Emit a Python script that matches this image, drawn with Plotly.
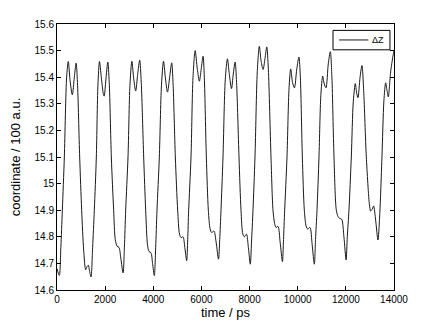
import plotly.graph_objects as go

# time (ps) and coordinate (/100 a.u.)
time_ps = [
    0, 96, 160, 222, 305, 400, 470, 540, 636, 720, 795, 850, 942, 1025, 1108, 1191, 1250, 1302, 1350, 1412,
    1480, 1550, 1634, 1700, 1765, 1840, 1930, 1960, 2030, 2110, 2170, 2257, 2354, 2420, 2493, 2576, 2650, 2745,
    2800, 2853, 2950, 3030, 3110, 3180, 3268, 3350, 3435, 3500, 3601, 3684, 3760, 3822, 3905, 3970, 4043,
    4100, 4154, 4251, 4340, 4425, 4500, 4590, 4680, 4764, 4820, 4916, 5013, 5090, 5152, 5235, 5310, 5387,
    5430, 5470, 5567, 5650, 5740, 5830, 5915, 5990, 6068, 6120, 6204, 6287, 6360, 6425, 6522, 6610, 6710,
    6760, 6813, 6896, 6990, 7080, 7160, 7250, 7320, 7400, 7460, 7561, 7644, 7720, 7783, 7870, 7950, 8031,
    8080, 8142, 8225, 8320, 8405, 8480, 8562, 8640, 8715, 8780, 8890, 8973, 9040, 9098, 9181, 9270, 9365,
    9410, 9458, 9555, 9640, 9710, 9785, 9865, 9960, 10050, 10110, 10192, 10275, 10350, 10413, 10510, 10600, 10690,
    10740, 10801, 10884, 10960, 11037, 11100, 11175, 11270, 11355, 11420, 11507, 11604, 11680, 11743, 11826, 11920, 12010,
    12060, 12129, 12226, 12310, 12393, 12450, 12503, 12590, 12669, 12740, 12850, 12980, 13030, 13100, 13154, 13240, 13334,
    13400, 13440, 13500, 13580, 13653, 13710, 13763, 13860, 13958, 14000,
]
delta_z = [
    14.68, 14.655, 14.76, 14.9, 15.1, 15.40, 15.459, 15.39, 15.334, 15.40, 15.453, 15.38, 15.1, 14.9, 14.75, 14.676, 14.688, 14.693, 14.672, 14.649,
    14.76, 14.9, 15.1, 15.37, 15.459, 15.40, 15.335, 15.329, 15.39, 15.457, 15.38, 15.1, 14.9, 14.79, 14.765, 14.76, 14.72, 14.664,
    14.76, 14.9, 15.1, 15.37, 15.46, 15.40, 15.348, 15.41, 15.464, 15.38, 15.1, 14.9, 14.77, 14.745, 14.74, 14.70, 14.654,
    14.76, 14.9, 15.1, 15.37, 15.46, 15.40, 15.344, 15.40, 15.454, 15.38, 15.1, 14.9, 14.81, 14.797, 14.80, 14.76, 14.71,
    14.79, 14.9, 15.1, 15.40, 15.50, 15.43, 15.385, 15.43, 15.479, 15.40, 15.1, 14.9, 14.83, 14.816, 14.822, 14.78, 14.716,
    14.79, 14.9, 15.1, 15.39, 15.469, 15.41, 15.357, 15.41, 15.457, 15.38, 15.1, 14.9, 14.81, 14.80, 14.81, 14.76, 14.697,
    14.78, 14.9, 15.1, 15.42, 15.516, 15.46, 15.429, 15.47, 15.514, 15.43, 15.1, 14.9, 14.85, 14.835, 14.839, 14.78, 14.707,
    14.79, 14.9, 15.1, 15.36, 15.431, 15.38, 15.36, 15.43, 15.476, 15.40, 15.1, 14.9, 14.84, 14.829, 14.835, 14.77, 14.697,
    14.79, 14.9, 15.1, 15.33, 15.404, 15.375, 15.36, 15.45, 15.496, 15.40, 15.1, 14.9, 14.875, 14.869, 14.866, 14.80, 14.713,
    14.80, 14.9, 15.1, 15.31, 15.376, 15.34, 15.323, 15.40, 15.444, 15.35, 15.1, 14.92, 14.897, 14.905, 14.916, 14.86, 14.788,
    14.87, 14.95, 15.1, 15.31, 15.379, 15.35, 15.326, 15.42, 15.48, 15.50,
]

x_ticks = [0, 2000, 4000, 6000, 8000, 10000, 12000, 14000]
y_ticks = [14.6, 14.7, 14.8, 14.9, 15.0, 15.1, 15.2, 15.3, 15.4, 15.5, 15.6]
y_labels = ["14.6", "14.7", "14.8", "14.9", "15", "15.1", "15.2", "15.3", "15.4", "15.5", "15.6"]
series_name = "\u0394Z"

line_color = "#1a1a1a"

trace = go.Scatter(
    x=time_ps,
    y=delta_z,
    mode="lines",
    name=series_name,
    showlegend=False,
    line=dict(color=line_color, width=1, shape="spline", smoothing=0.8),
)

axis_common = dict(
    showline=True,
    linecolor="black",
    linewidth=1,
    mirror="ticks",
    ticks="inside",
    ticklen=4,
    tickcolor="black",
    showgrid=False,
    zeroline=False,
    automargin=False,
    tickfont=dict(family="Liberation Sans, Arial", size=10, color="black"),
)

# matlab-style legend box drawn by hand (plotly's own legend is too tall)
legend_shapes = [
    dict(type="rect", xref="paper", yref="paper", x0=0.819, x1=0.988, y0=0.903, y1=0.976,
         line=dict(color="black", width=1), fillcolor="white", layer="above"),
    dict(type="line", xref="paper", yref="paper", x0=0.837, x1=0.924, y0=0.940, y1=0.940,
         line=dict(color=line_color, width=1), layer="above"),
]
legend_text = [
    dict(xref="paper", yref="paper", x=0.930, y=0.940, xanchor="left", yanchor="middle",
         text=series_name, showarrow=False, font=dict(size=9, color="black")),
]

layout = go.Layout(
    width=436,
    height=328,
    # page body adds an 8px offset, so margins are 8px smaller on the left/top
    margin=dict(l=49, r=50, t=16, b=46),
    paper_bgcolor="white",
    plot_bgcolor="white",
    font=dict(family="Liberation Sans, Arial", color="black"),
    shapes=legend_shapes,
    annotations=legend_text,
    xaxis=dict(
        axis_common,
        range=[0, 14000],
        tickvals=x_ticks,
        ticktext=[str(v) for v in x_ticks],
        title=dict(text="time / ps", font=dict(size=13), standoff=2),
    ),
    yaxis=dict(
        axis_common,
        range=[14.6, 15.6],
        tickvals=y_ticks,
        ticktext=y_labels,
        title=dict(text="coordinate / 100 a.u.", font=dict(size=13), standoff=14),
    ),
)

fig = go.Figure(data=[trace], layout=layout)
fig.write_html("out.html")
